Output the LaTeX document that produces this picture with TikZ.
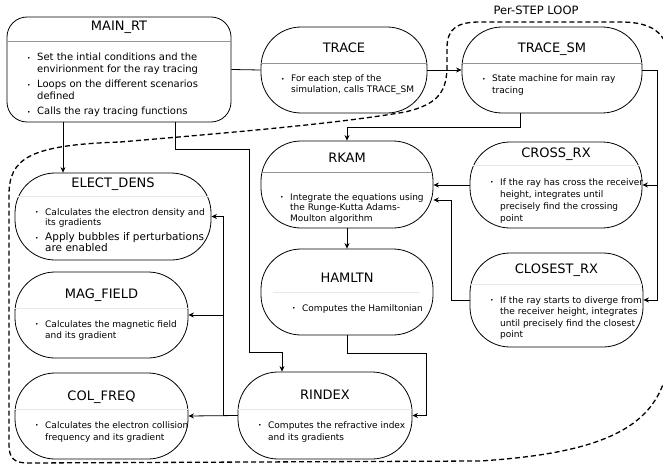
\documentclass[tikz,border=0pt]{standalone}
\usepackage{fontspec}
\setmainfont{DejaVu Sans}
\usepackage{tikz}
\usetikzlibrary{arrows.meta,calc}
\newcommand{\bul}{\makebox[10pt][l]{\raisebox{0.5pt}{\fontsize{6}{6}\selectfont\textbullet}}}
% separator line of a state box, clipped to its rounded border
\newcommand{\boxsep}[4]{%
  \begin{scope}
    \clip[rounded corners=#2] (#1.north west) rectangle (#1.south east);
    \draw[#4] (#1.west |- 0,#3) -- (#1.east |- 0,#3);
  \end{scope}}

\begin{document}
\begin{tikzpicture}[x=1pt, y=-1pt,
    statebox/.style={draw, rounded corners=40pt, inner sep=0pt, line width=0.8pt},
    titletext/.style={font=\fontsize{13}{15}\selectfont, inner sep=0pt, anchor=base},
    bodytext/.style={font=\fontsize{9}{11.5}\selectfont, inner sep=0pt, anchor=base west},
    darksep/.style={draw=gray!85, line width=0.6pt},
    lightsep/.style={draw=gray!18, line width=0.6pt},
    link/.style={line width=0.8pt},
    looppath/.style={dash pattern=on 5pt off 3pt, line width=1.3pt},
    >={Stealth[length=5.5pt,width=5pt]}
]
\useasboundingbox (0,0) rectangle (663,468);

% state boxes
\node[statebox, rounded corners=20pt, minimum width=224pt, minimum height=105pt] (main) at (119,69.5) {};
\node[statebox, minimum width=166pt, minimum height=86pt] (trace) at (344,70) {};
\node[statebox, minimum width=180pt, minimum height=86pt] (tracesm) at (552,70) {};
\node[statebox, minimum width=172pt, minimum height=87pt] (rkam) at (347,184.5) {};
\node[statebox, minimum width=172pt, minimum height=86pt] (hamltn) at (347,292) {};
\node[statebox, minimum width=174pt, minimum height=87pt] (rindex) at (325,415.5) {};
\node[statebox, minimum width=172pt, minimum height=86pt] (crossrx) at (556,185) {};
\node[statebox, minimum width=173pt, minimum height=94pt] (closestrx) at (556.5,300) {};
\node[statebox, minimum width=196pt, minimum height=87pt] (elect) at (113,216.5) {};
\node[statebox, minimum width=173pt, minimum height=86pt] (magfield) at (101.5,315) {};
\node[statebox, minimum width=173pt, minimum height=86pt] (colfreq) at (101.5,416) {};

% titles
\node[titletext] (main-t) at (main.north |- 0,31) {MAIN\_RT};
\node[titletext] (trace-t) at (trace.north |- 0,53) {TRACE};
\node[titletext] (tracesm-t) at (tracesm.north |- 0,53) {TRACE\_SM};
\node[titletext] (rkam-t) at (rkam.north |- 0,162) {RKAM};
\node[titletext] (hamltn-t) at (hamltn.north |- 0,282) {HAMLTN};
\node[titletext] (rindex-t) at (rindex.north |- 0,399) {RINDEX};
\node[titletext] (crossrx-t) at (crossrx.north |- 0,157) {CROSS\_RX};
\node[titletext] (closestrx-t) at (closestrx.north |- 0,273) {CLOSEST\_RX};
\node[titletext] (elect-t) at (elect.north |- 0,187) {ELECT\_DENS};
\node[titletext] (magfield-t) at (magfield.north |- 0,298) {MAG\_FIELD};
\node[titletext] (colfreq-t) at (colfreq.north |- 0,400) {COL\_FREQ};

% separators
\boxsep{main}{20pt}{41}{darksep}
\boxsep{trace}{40pt}{63}{darksep}
\boxsep{tracesm}{40pt}{63}{darksep}
\boxsep{rkam}{40pt}{172}{darksep}
\draw[lightsep] (273,292) -- (420,292);
\boxsep{rindex}{40pt}{409}{lightsep}
\boxsep{crossrx}{40pt}{165}{lightsep}
\boxsep{closestrx}{40pt}{284}{lightsep}
\boxsep{elect}{40pt}{196}{lightsep}
\boxsep{magfield}{40pt}{308}{lightsep}
\boxsep{colfreq}{40pt}{409}{lightsep}

% descriptions
\node[bodytext, font=\fontsize{10}{12}\selectfont] (main-b) at (27,61) {\begin{tabular}[t]{@{}l@{}l@{}}
  \bul & Set the intial conditions and the\\
       & envirionment for the ray tracing\\[3pt]
  \bul & Loops on the different scenarios\\
       & defined\\[3pt]
  \bul & Calls the ray tracing functions
\end{tabular}};
\node[bodytext, font=\fontsize{9}{11}\selectfont] (trace-b) at (281,82) {\begin{tabular}[t]{@{}l@{}l@{}}
  \bul & For each step of the\\
       & simulation, calls TRACE\_SM
\end{tabular}};
\node[bodytext, font=\fontsize{9}{12}\selectfont] (tracesm-b) at (482,82) {\begin{tabular}[t]{@{}l@{}l@{}}
  \bul & State machine for main ray\\
       & tracing
\end{tabular}};
\node[bodytext, font=\fontsize{9}{10.5}\selectfont] (rkam-b) at (280,200) {\begin{tabular}[t]{@{}l@{}l@{}}
  \bul & Integrate the equations using\\
       & the Runge-Kutta Adams-\\
       & Moulton algorithm
\end{tabular}};
\node[bodytext] (hamltn-b) at (292,311) {\begin{tabular}[t]{@{}l@{}l@{}}
  \bul & Computes the Hamiltonian
\end{tabular}};
\node[bodytext, font=\fontsize{9}{12}\selectfont] (rindex-b) at (258,428) {\begin{tabular}[t]{@{}l@{}l@{}}
  \bul & Computes the refractive index\\
       & and its gradients
\end{tabular}};
\node[bodytext, font=\fontsize{9}{12}\selectfont] (crossrx-b) at (490,185) {\begin{tabular}[t]{@{}l@{}l@{}}
  \bul & If the ray has cross the receiver\\
       & height, integrates until\\
       & precisely find the crossing\\
       & point
\end{tabular}};
\node[bodytext] (closestrx-b) at (490,303) {\begin{tabular}[t]{@{}l@{}l@{}}
  \bul & If the ray starts to diverge from\\
       & the receiver height, integrates\\
       & until precisely find the closest\\
       & point
\end{tabular}};
\node[bodytext, font=\fontsize{9}{10.5}\selectfont] (elect-b) at (35,215) {\begin{tabular}[t]{@{}l@{}l@{}}
  \bul & Calculates the electron density and\\
       & its gradients\\[4pt]
  \bul & {\fontsize{10.5}{12}\selectfont Apply bubbles if perturbations}\\
       & {\fontsize{10.5}{12}\selectfont are enabled}
\end{tabular}};
\node[bodytext, font=\fontsize{9}{11}\selectfont] (magfield-b) at (35,327) {\begin{tabular}[t]{@{}l@{}l@{}}
  \bul & Calculates the magnetic field\\
       & and its gradient
\end{tabular}};
\node[bodytext, font=\fontsize{9}{12}\selectfont] (colfreq-b) at (35,428) {\begin{tabular}[t]{@{}l@{}l@{}}
  \bul & Calculates the electron collision\\
       & frequency and its gradient
\end{tabular}};

% connectors
\draw[link] (main.east) -- (trace.west);
\draw[link, ->] (trace.east) -- (tracesm.west);
\draw[link, ->] ([xshift=-32pt]tracesm.south) -- ++(0,14) -| (rkam.north);
\draw[link, ->] (tracesm.east) -- ++(15,0) |- (crossrx.east);
\draw[link, ->] (tracesm.east) -- ++(15,0) |- (closestrx.east);
\draw[link, ->] (crossrx.west) -- (crossrx.west -| rkam.east);
\draw[link, ->] (closestrx.west) -- ++(-18,0) |- ([yshift=-15.5pt]rkam.east);
\draw[link, ->] (rkam) -- (hamltn);
\draw[link, ->] (hamltn.south) -- ++(0,18) -| ([xshift=14pt]rindex.east) -- (rindex.east);
\draw[link, ->] ([xshift=-56pt]main.south) -- ([xshift=-56pt]main.south |- elect.north);
\draw[link, ->] ([xshift=56pt]main.south) -- ++(0,27) -| ++(74,203) -| ([xshift=-43pt]rindex.north);
\draw[link, ->] (rindex.west) -- (colfreq.east);
\draw[link, ->] (rindex.west) -- ++(-14,0) |- (elect.east);
\draw[link, ->] (rindex.west) ++(-14,0) |- (magfield.east);

% per-step loop
\begin{scope}
  \clip (0,0) rectangle (663,468);
  \draw[looppath] (120,142) .. controls (250,131) and (340,123) .. (405,112)
    .. controls (440,104) and (447,90) .. (447,65)
    -- (447,48) .. controls (447,28) and (458,22) .. (480,22)
    -- (620,22) .. controls (656,22) and (670,35) .. (670,70)
    -- (670,340) .. controls (670,420) and (620,452) .. (480,461)
    -- (28,463) .. controls (14,463) and (9,458) .. (9,445)
    -- (9,195) .. controls (9,158) and (30,145) .. cycle;
\end{scope}
\node[font=\fontsize{11.5}{13}\selectfont, inner sep=0pt, anchor=base] (loop-l) at (536,15) {Per-STEP LOOP};
\end{tikzpicture}
\end{document}
